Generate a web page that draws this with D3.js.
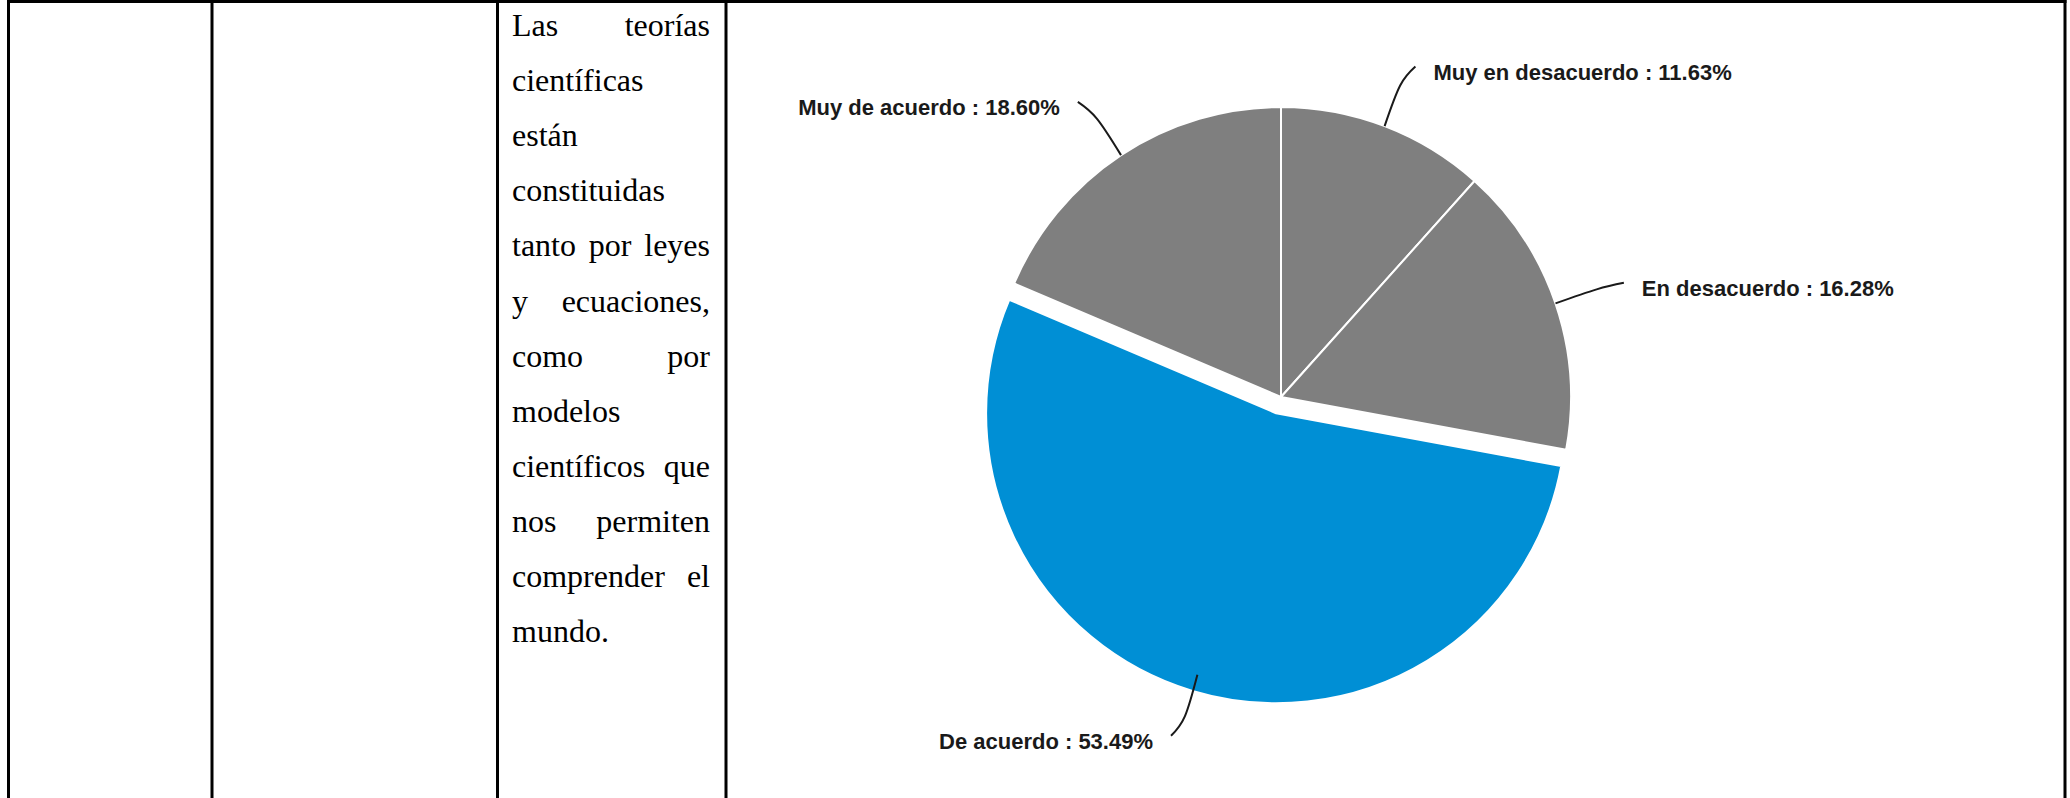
<!DOCTYPE html>
<html>
<head>
<meta charset="utf-8">
<script src="https://cdn.jsdelivr.net/npm/d3@7"></script>
<style>
  html, body { margin: 0; padding: 0; background: #ffffff; }
  svg { display: block; }
</style>
</head>
<body>
<script>
// ---- Data ----
const categories = ["Muy en desacuerdo", "En desacuerdo", "De acuerdo", "Muy de acuerdo"];
const values = [11.63, 16.28, 53.49, 18.60];
const explodedCategory = "De acuerdo";
const sliceColors = ["#7f7f7f", "#7f7f7f", "#008fd5", "#7f7f7f"];

// Table cell text (one entry per printed line); justify = spread words across the cell
const textLines = [
  { text: "Las teorías", justify: true },
  { text: "científicas", justify: false },
  { text: "están", justify: false },
  { text: "constituidas", justify: false },
  { text: "tanto por leyes", justify: true },
  { text: "y ecuaciones,", justify: true },
  { text: "como por", justify: true },
  { text: "modelos", justify: false },
  { text: "científicos que", justify: true },
  { text: "nos permiten", justify: true },
  { text: "comprender el", justify: true },
  { text: "mundo.", justify: false }
];

// ---- Layout ----
const W = 2070, H = 798;
const svg = d3.select("body").append("svg").attr("width", W).attr("height", H);
svg.append("rect").attr("width", W).attr("height", H).attr("fill", "#fff");

// Table grid
const colLines = [8.5, 212, 497.5, 726, 2065];
const gridColor = "#000";
svg.append("line").attr("x1", colLines[0] - 1.5).attr("x2", colLines[4] + 1.5)
  .attr("y1", 1.5).attr("y2", 1.5).attr("stroke", gridColor).attr("stroke-width", 3);
svg.selectAll("line.col").data(colLines).join("line").attr("class", "col")
  .attr("x1", d => d).attr("x2", d => d).attr("y1", 0).attr("y2", H)
  .attr("stroke", gridColor).attr("stroke-width", 3);

// Cell text
const textLeft = 512, textRight = 710, firstBaseline = 36, lineStep = 55.1;
const tg = svg.append("g").attr("font-family", "'Liberation Serif', 'Times New Roman', serif")
  .attr("font-size", 32).attr("fill", "#000");
textLines.forEach((ln, i) => {
  const y = firstBaseline + i * lineStep;
  const words = ln.text.split(" ");
  if (!ln.justify || words.length === 1) {
    tg.append("text").attr("x", textLeft).attr("y", y).text(ln.text);
    return;
  }
  const nodes = words.map(w => tg.append("text").attr("y", y).text(w));
  const widths = nodes.map(n => n.node().getComputedTextLength());
  const total = d3.sum(widths);
  const gap = (textRight - textLeft - total) / (words.length - 1);
  let x = textLeft;
  nodes.forEach((n, k) => { n.attr("x", x); x += widths[k] + gap; });
});

// Pie chart
const cx = 1281, cy = 397, r = 290, explode = 17;
const data = categories.map((c, i) => ({ category: c, value: values[i], color: sliceColors[i] }));
const pie = d3.pie().sort(null).value(d => d.value);
const arcs = pie(data);
const arc = d3.arc().innerRadius(0).outerRadius(r);
const polar = (a, rad) => [rad * Math.sin(a), -rad * Math.cos(a)];

const g = svg.append("g").attr("transform", `translate(${cx},${cy})`);
g.selectAll("path.slice").data(arcs).join("path").attr("class", "slice")
  .attr("d", arc)
  .attr("fill", d => d.data.color)
  .attr("stroke", "#fff").attr("stroke-width", 2).attr("stroke-linejoin", "round")
  .attr("transform", d => {
    if (d.data.category !== explodedCategory) return null;
    const m = (d.startAngle + d.endAngle) / 2;
    const [dx, dy] = polar(m, explode);
    return `translate(${dx},${dy})`;
  });

// Leader lines + labels
const leader = d3.line().curve(d3.curveNatural);
arcs.forEach(d => {
  const m = (d.startAngle + d.endAngle) / 2;
  const side = Math.sin(m) >= 0 ? 1 : -1;
  const p0 = polar(m, r);
  const p1 = polar(m, r * 1.15);
  const p2r = polar(m, r * 1.22);
  const p2 = [p2r[0] + side * 8, p2r[1]];
  g.append("path").attr("d", leader([p0, p1, p2]))
    .attr("fill", "none").attr("stroke", "#1a1a1a").attr("stroke-width", 2);
  g.append("text")
    .attr("x", p2[0] + side * 18).attr("y", p2[1] + 6)
    .attr("dominant-baseline", "central")
    .attr("text-anchor", side > 0 ? "start" : "end")
    .attr("font-family", "'Liberation Sans', Arial, sans-serif")
    .attr("font-weight", "bold").attr("font-size", 22).attr("fill", "#1a1a1a")
    .text(`${d.data.category} : ${d.data.value.toFixed(2)}%`);
});
</script>
</body>
</html>
